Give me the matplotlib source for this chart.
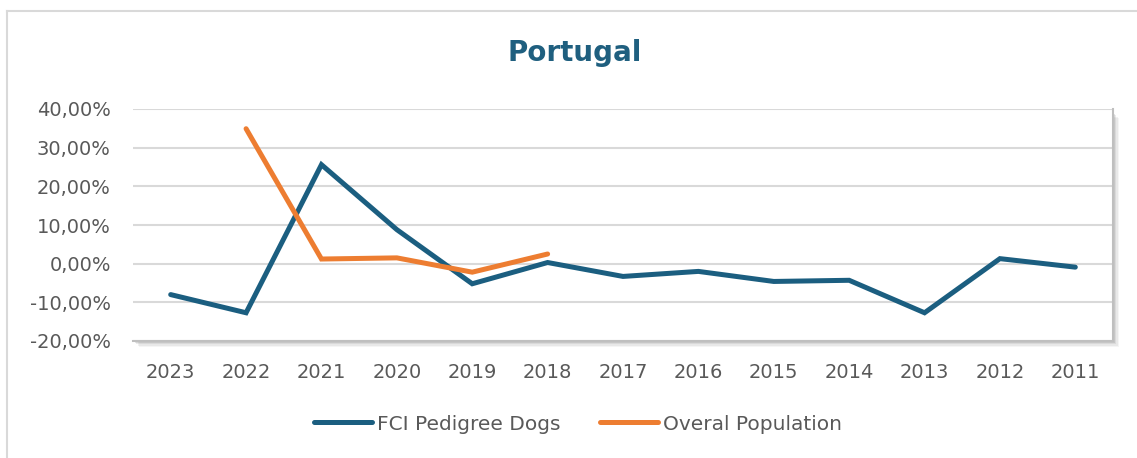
import matplotlib.pyplot as plt
from matplotlib.lines import Line2D
from matplotlib.patches import Rectangle
from matplotlib.ticker import FuncFormatter

plt.rcParams["font.family"] = ["DejaVu Sans"]

years = ["2023", "2022", "2021", "2020", "2019", "2018", "2017",
         "2016", "2015", "2014", "2013", "2012", "2011"]
fci_dogs = [-8.0, -12.7, 25.6, 8.8, -5.2, 0.3, -3.3,
            -2.0, -4.6, -4.3, -12.7, 1.3, -0.9]
overall_years = ["2022", "2021", "2020", "2019", "2018"]
overall_pop = [34.9, 1.2, 1.5, -2.2, 2.5]

BLUE = "#1B5E80"
ORANGE = "#ED7D31"
TEXT = "#595959"
GRID = "#D9D9D9"

W, H = 1137, 458
fig = plt.figure(figsize=(W / 100, H / 100), dpi=100)
fig.patch.set_facecolor("white")

# outer chart frame (only left and top edges visible)
fig.add_artist(Line2D([7 / W, 7 / W], [0, 1 - 11 / H], transform=fig.transFigure,
                      color=GRID, lw=1.5))
fig.add_artist(Line2D([7 / W, 1], [1 - 11 / H, 1 - 11 / H], transform=fig.transFigure,
                      color=GRID, lw=1.5))

left, right, top, bottom = 133, 1113, 109, 341
ax_rect = [left / W, 1 - bottom / H, (right - left) / W, (bottom - top) / H]

# soft shadow behind plot area
for i, a in enumerate([0.07, 0.10, 0.14, 0.20]):
    off = 6 - i * 1.3
    fig.add_artist(Rectangle(((left + off) / W, 1 - (bottom + off) / H),
                             (right - left) / W, (bottom - top - 3) / H,
                             transform=fig.transFigure, facecolor="#7F7F7F",
                             edgecolor="none", alpha=a, zorder=0))

ax = fig.add_axes(ax_rect)
ax.set_facecolor("white")
ax.set_zorder(1)

x = list(range(len(years)))
ax.plot(x, fci_dogs, color=BLUE, lw=3.6, solid_joinstyle="miter",
        solid_capstyle="round", label="FCI Pedigree Dogs", zorder=3)
xo = [years.index(y) for y in overall_years]
ax.plot(xo, overall_pop, color=ORANGE, lw=3.6, solid_joinstyle="miter",
        solid_capstyle="round", label="Overal Population", zorder=4)

ax.set_xlim(-0.5, len(years) - 0.5)
ax.set_ylim(-20, 40)
ax.set_yticks(range(-20, 41, 10))
ax.yaxis.set_major_formatter(FuncFormatter(lambda v, p: f"{v:.2f}%".replace(".", ",")))
ax.set_xticks(x)
ax.set_xticklabels(years)
ax.grid(axis="y", color=GRID, lw=1.5)
ax.set_axisbelow(True)
ax.tick_params(axis="both", length=0, labelsize=14, colors=TEXT)
ax.tick_params(axis="y", pad=16)
ax.tick_params(axis="x", pad=16)
for s in ["left", "top"]:
    ax.spines[s].set_visible(False)
for s in ["right", "bottom"]:
    ax.spines[s].set_color("#BFBFBF")
    ax.spines[s].set_linewidth(1.5)

fig.text(575 / W, 1 - 53 / H, "Portugal", ha="center", va="center",
         fontsize=20, fontweight="bold", color="#1F5F7F")

handles, labels = ax.get_legend_handles_labels()
fig.legend(handles, labels, loc="center", bbox_to_anchor=(578 / W, 1 - 424 / H),
           ncol=2, frameon=False, fontsize=14.5, labelcolor=TEXT,
           handlelength=2.85, handletextpad=0.25, columnspacing=2.0)

fig.savefig("out.png", dpi=100, facecolor="white")
